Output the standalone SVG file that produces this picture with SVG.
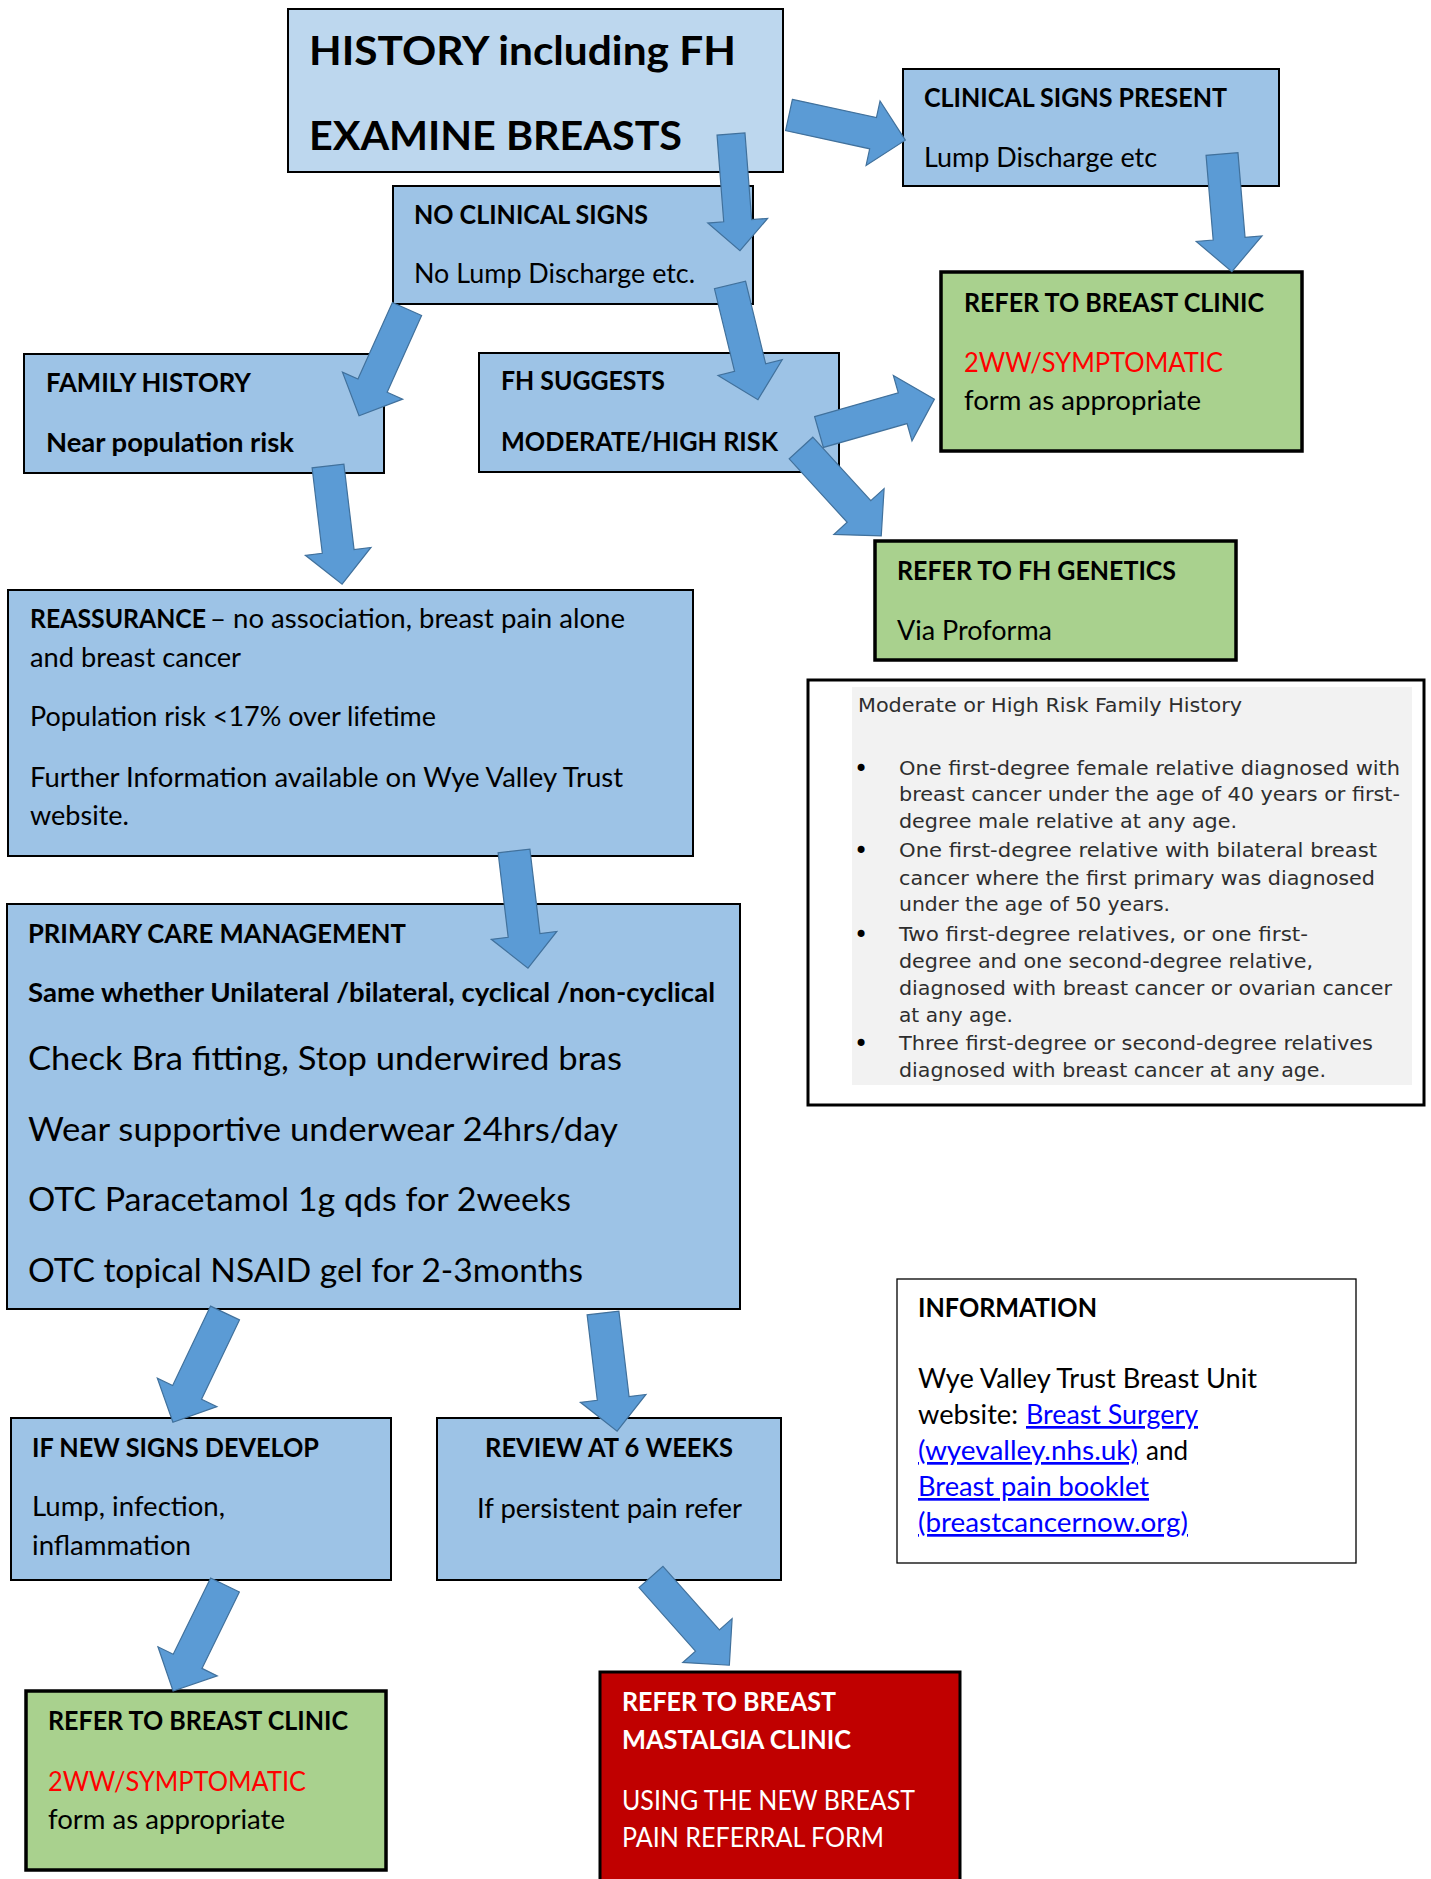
<svg xmlns="http://www.w3.org/2000/svg" width="1431" height="1879" viewBox="0 0 1431 1879">
<style>
.box{stroke:#000;stroke-width:2}
.lb{fill:#BDD7EE}
.bl{fill:#9DC3E6}
.gr{fill:#A9D18E;stroke:#000;stroke-width:3.5}
.t{font-family:Lato,'Liberation Sans',sans-serif;font-size:27px;fill:#000}
.b{font-weight:bold}
.big{font-size:33px}
.ttl{font-size:40px;font-weight:bold}
.red{fill:#FF0000}
.wh{fill:#FFFFFF}
.lnk{fill:#0000FF;text-decoration:underline}
.fh{font-family:'DejaVu Sans Condensed','DejaVu Sans',sans-serif;font-size:20px;fill:#2E2E2E}
.bul{font-family:'DejaVu Sans',sans-serif;font-size:24px;fill:#000}
.arr{fill:#5B9BD5;stroke:#41719C;stroke-width:1.2}
</style>
<rect width="1431" height="1879" fill="#FFFFFF"/>
<g id="nodes">
<g id="history">
<rect class="box lb" x="288" y="9" width="495" height="163"/>
<text class="t ttl" x="309" y="65" textLength="427" lengthAdjust="spacingAndGlyphs">HISTORY including FH</text>
<text class="t ttl" x="309" y="150" textLength="373" lengthAdjust="spacingAndGlyphs">EXAMINE BREASTS</text>
</g>
<g id="clinical-signs">
<rect class="box bl" x="903" y="69" width="376" height="117"/>
<text class="t b" x="924" y="107" textLength="303" lengthAdjust="spacingAndGlyphs">CLINICAL SIGNS PRESENT</text>
<text class="t" x="924" y="167" textLength="233" lengthAdjust="spacingAndGlyphs">Lump Discharge etc</text>
</g>
<g id="no-clinical-signs">
<rect class="box bl" x="393" y="186" width="360" height="118"/>
<text class="t b" x="414" y="224" textLength="234" lengthAdjust="spacingAndGlyphs">NO CLINICAL SIGNS</text>
<text class="t" x="414" y="283" textLength="281" lengthAdjust="spacingAndGlyphs">No Lump Discharge etc.</text>
</g>
<g id="family-history">
<rect class="box bl" x="24" y="354" width="360" height="119"/>
<text class="t b" x="46" y="392" textLength="205" lengthAdjust="spacingAndGlyphs">FAMILY HISTORY</text>
<text class="t b" x="46" y="452" textLength="248" lengthAdjust="spacingAndGlyphs">Near population risk</text>
</g>
<g id="fh-suggests">
<rect class="box bl" x="479" y="353" width="360" height="119"/>
<text class="t b" x="501" y="390" textLength="164" lengthAdjust="spacingAndGlyphs">FH SUGGESTS</text>
<text class="t b" x="501" y="451" textLength="277" lengthAdjust="spacingAndGlyphs">MODERATE/HIGH RISK</text>
</g>
<g id="refer-breast-clinic-1">
<rect class="gr" x="941" y="272" width="361" height="179"/>
<text class="t b" x="964" y="312" textLength="300" lengthAdjust="spacingAndGlyphs">REFER TO BREAST CLINIC</text>
<text class="t red" x="964" y="372" textLength="259" lengthAdjust="spacingAndGlyphs">2WW/SYMPTOMATIC</text>
<text class="t" x="964" y="410" textLength="237" lengthAdjust="spacingAndGlyphs">form as appropriate</text>
</g>
<g id="refer-fh-genetics">
<rect class="gr" x="875" y="541" width="361" height="119"/>
<text class="t b" x="897" y="580" textLength="279" lengthAdjust="spacingAndGlyphs">REFER TO FH GENETICS</text>
<text class="t" x="897" y="640" textLength="155" lengthAdjust="spacingAndGlyphs">Via Proforma</text>
</g>
<g id="reassurance">
<rect class="box bl" x="8" y="590" width="685" height="266"/>
<text class="t b" x="30" y="628" textLength="176" lengthAdjust="spacingAndGlyphs">REASSURANCE</text>
<text class="t" x="210" y="628" textLength="415" lengthAdjust="spacingAndGlyphs">– no association, breast pain alone</text>
<text class="t" x="30" y="667" textLength="211" lengthAdjust="spacingAndGlyphs">and breast cancer</text>
<text class="t" x="30" y="726" textLength="406" lengthAdjust="spacingAndGlyphs">Population risk &lt;17% over lifetime</text>
<text class="t" x="30" y="787" textLength="593" lengthAdjust="spacingAndGlyphs">Further Information available on Wye Valley Trust</text>
<text class="t" x="30" y="825" textLength="99" lengthAdjust="spacingAndGlyphs">website.</text>
</g>
<g id="fh-criteria">
<rect x="808" y="680" width="616" height="425" fill="#FFFFFF" stroke="#000" stroke-width="3"/>
<rect x="852" y="687" width="560" height="398" fill="#F2F2F2"/>
<text class="fh" x="858" y="712" textLength="384" lengthAdjust="spacingAndGlyphs">Moderate or High Risk Family History</text>
<text class="bul" x="854" y="777">•</text>
<text class="fh" x="899" y="775" textLength="501" lengthAdjust="spacingAndGlyphs">One first-degree female relative diagnosed with</text>
<text class="fh" x="899" y="801" textLength="501" lengthAdjust="spacingAndGlyphs">breast cancer under the age of 40 years or first-</text>
<text class="fh" x="899" y="828" textLength="338" lengthAdjust="spacingAndGlyphs">degree male relative at any age.</text>
<text class="bul" x="854" y="859">•</text>
<text class="fh" x="899" y="857" textLength="478" lengthAdjust="spacingAndGlyphs">One first-degree relative with bilateral breast</text>
<text class="fh" x="899" y="885" textLength="476" lengthAdjust="spacingAndGlyphs">cancer where the first primary was diagnosed</text>
<text class="fh" x="899" y="911" textLength="271" lengthAdjust="spacingAndGlyphs">under the age of 50 years.</text>
<text class="bul" x="854" y="943">•</text>
<text class="fh" x="899" y="941" textLength="409" lengthAdjust="spacingAndGlyphs">Two first-degree relatives, or one first-</text>
<text class="fh" x="899" y="968" textLength="414" lengthAdjust="spacingAndGlyphs">degree and one second-degree relative,</text>
<text class="fh" x="899" y="995" textLength="493" lengthAdjust="spacingAndGlyphs">diagnosed with breast cancer or ovarian cancer</text>
<text class="fh" x="899" y="1022" textLength="114" lengthAdjust="spacingAndGlyphs">at any age.</text>
<text class="bul" x="854" y="1052">•</text>
<text class="fh" x="899" y="1050" textLength="474" lengthAdjust="spacingAndGlyphs">Three first-degree or second-degree relatives</text>
<text class="fh" x="899" y="1077" textLength="427" lengthAdjust="spacingAndGlyphs">diagnosed with breast cancer at any age.</text>
</g>
<g id="primary-care">
<rect class="box bl" x="7" y="904" width="733" height="405"/>
<text class="t b" x="28" y="943" textLength="378" lengthAdjust="spacingAndGlyphs">PRIMARY CARE MANAGEMENT</text>
<text class="t b" x="28" y="1002" textLength="687" lengthAdjust="spacingAndGlyphs">Same whether Unilateral /bilateral, cyclical /non-cyclical</text>
<text class="t big" x="28" y="1070" textLength="594" lengthAdjust="spacingAndGlyphs">Check Bra fitting, Stop underwired bras</text>
<text class="t big" x="28" y="1141" textLength="590" lengthAdjust="spacingAndGlyphs">Wear supportive underwear 24hrs/day</text>
<text class="t big" x="28" y="1211" textLength="543" lengthAdjust="spacingAndGlyphs">OTC Paracetamol 1g qds for 2weeks</text>
<text class="t big" x="28" y="1282" textLength="555" lengthAdjust="spacingAndGlyphs">OTC topical NSAID gel for 2-3months</text>
</g>
<g id="information">
<rect x="897" y="1279" width="459" height="284" fill="#FFFFFF" stroke="#000" stroke-width="1.3"/>
<text class="t b" x="918" y="1317" textLength="179" lengthAdjust="spacingAndGlyphs">INFORMATION</text>
<text class="t" x="918" y="1388" textLength="339" lengthAdjust="spacingAndGlyphs">Wye Valley Trust Breast Unit</text>
<text class="t" x="918" y="1424" textLength="100" lengthAdjust="spacingAndGlyphs">website:</text>
<text class="t lnk" x="1026" y="1424" textLength="172" lengthAdjust="spacingAndGlyphs">Breast Surgery</text>
<text class="t lnk" x="918" y="1460" textLength="220" lengthAdjust="spacingAndGlyphs">(wyevalley.nhs.uk)</text>
<text class="t" x="1146" y="1460" textLength="42" lengthAdjust="spacingAndGlyphs">and</text>
<text class="t lnk" x="918" y="1496" textLength="231" lengthAdjust="spacingAndGlyphs">Breast pain booklet</text>
<text class="t lnk" x="918" y="1532" textLength="270" lengthAdjust="spacingAndGlyphs">(breastcancernow.org)</text>
</g>
<g id="new-signs">
<rect class="box bl" x="11" y="1418" width="380" height="162"/>
<text class="t b" x="32" y="1457" textLength="287" lengthAdjust="spacingAndGlyphs">IF NEW SIGNS DEVELOP</text>
<text class="t" x="32" y="1516" textLength="193" lengthAdjust="spacingAndGlyphs">Lump, infection,</text>
<text class="t" x="32" y="1555" textLength="159" lengthAdjust="spacingAndGlyphs">inflammation</text>
</g>
<g id="review">
<rect class="box bl" x="437" y="1418" width="344" height="162"/>
<text class="t b" x="485" y="1457" textLength="248" lengthAdjust="spacingAndGlyphs">REVIEW AT 6 WEEKS</text>
<text class="t" x="477" y="1518" textLength="265" lengthAdjust="spacingAndGlyphs">If persistent pain refer</text>
</g>
<g id="refer-breast-clinic-2">
<rect class="gr" x="26" y="1691" width="360" height="179"/>
<text class="t b" x="48" y="1730" textLength="300" lengthAdjust="spacingAndGlyphs">REFER TO BREAST CLINIC</text>
<text class="t red" x="48" y="1791" textLength="258" lengthAdjust="spacingAndGlyphs">2WW/SYMPTOMATIC</text>
<text class="t" x="48" y="1829" textLength="237" lengthAdjust="spacingAndGlyphs">form as appropriate</text>
</g>
<g id="mastalgia-clinic">
<rect x="600" y="1672" width="360" height="220" fill="#C00000" stroke="#000" stroke-width="3"/>
<text class="t b wh" x="622" y="1711" textLength="214" lengthAdjust="spacingAndGlyphs">REFER TO BREAST</text>
<text class="t b wh" x="622" y="1749" textLength="229" lengthAdjust="spacingAndGlyphs">MASTALGIA CLINIC</text>
<text class="t wh" x="622" y="1810" textLength="293" lengthAdjust="spacingAndGlyphs">USING THE NEW BREAST</text>
<text class="t wh" x="622" y="1847" textLength="262" lengthAdjust="spacingAndGlyphs">PAIN REFERRAL FORM</text>
</g>
</g>
<g id="connectors">
<polygon class="arr" points="0,-16 86,-16 86,-33 119,0 86,33 86,16 0,16" transform="translate(789,115) rotate(12.2)"/>
<polygon class="arr" points="0,-14 87,-14 87,-30 117,0 87,30 87,14 0,14" transform="translate(731,134) rotate(85.6)"/>
<polygon class="arr" points="0,-16 85,-16 85,-33 118,0 85,33 85,16 0,16" transform="translate(1222,154) rotate(85.2)"/>
<polygon class="arr" points="0,-16 84,-16 84,-33 117,0 84,33 84,16 0,16" transform="translate(407,309) rotate(114.2)"/>
<polygon class="arr" points="0,-16 85,-16 85,-33 118,0 85,33 85,16 0,16" transform="translate(730,285) rotate(76.3)"/>
<polygon class="arr" points="0,-16 87,-16 87,-34 120,0 87,34 87,16 0,16" transform="translate(819,432) rotate(-15.9)"/>
<polygon class="arr" points="0,-16 86,-16 86,-34 119,0 86,34 86,16 0,16" transform="translate(801,448) rotate(47.6)"/>
<polygon class="arr" points="0,-16 86,-16 86,-33 119,0 86,33 86,16 0,16" transform="translate(328,466) rotate(83.2)"/>
<polygon class="arr" points="0,-16 85,-16 85,-33 118,0 85,33 85,16 0,16" transform="translate(514,851) rotate(83.2)"/>
<polygon class="arr" points="0,-16 88,-16 88,-33 121,0 88,33 88,16 0,16" transform="translate(225,1313) rotate(115.5)"/>
<polygon class="arr" points="0,-16 86,-16 86,-33 119,0 86,33 86,16 0,16" transform="translate(603,1313) rotate(83.2)"/>
<polygon class="arr" points="0,-16 85,-16 85,-33 118,0 85,33 85,16 0,16" transform="translate(225,1585) rotate(116.1)"/>
<polygon class="arr" points="0,-16 85,-16 85,-33 118,0 85,33 85,16 0,16" transform="translate(651,1577) rotate(48.4)"/>
</g>
</svg>
